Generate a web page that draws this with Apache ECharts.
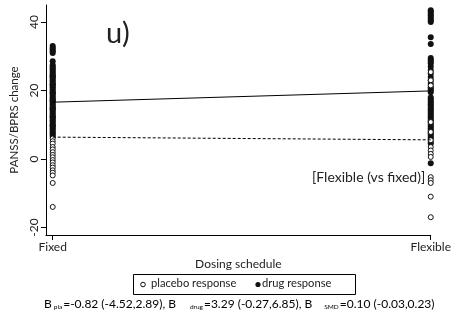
<!DOCTYPE html>
<html><head><meta charset="utf-8">
<script src="https://cdn.jsdelivr.net/npm/echarts@6/dist/echarts.min.js"></script>
<style>html,body{margin:0;padding:0;background:#fff}#c{width:454px;height:320px}</style>
</head><body><div id="c"></div>
<script>
const categories = ['Fixed', 'Flexible'];
const yTicks = [-20, 0, 20, 40];
const fixedDrug = [33, 32.5, 32, 31.5, 31, 28.6, 27.5, 27, 26.5, 26, 25.5, 25, 24.5, 24, 23.5, 23, 22.5, 22, 21.5, 21, 20.5, 20, 19.5, 19, 18.5, 18, 17.5, 17, 16.5, 16, 15.5, 15, 14.5, 14, 13.5, 13, 12.5, 12, 11.5, 11, 10.5, 10, 9.5, 9, 8.5, 8, 7.5, 7, 6.5, 24.2, 21.8, 19.3, 17.2, 14.8, 12.3, 9.8];
const fixedPlacebo = [6, 5.2, 4.5, 3.5, 2.8, 2, 1.2, 0.5, -0.3, -1, -1.8, -2.5, -3.3, -4, -4.8, -7, -14];
const flexibleDrug = [43.5, 43, 42.5, 42, 41.5, 41, 40.5, 40, 35.6, 33.6, 29.5, 29, 28.5, 28, 27, 26, 25, 24, 23, 22, 21, 20.5, 20, 19.5, 18, 17.5, 17, 16.5, 16, 15.5, 15, 14.5, 14, 13.5, 13, 12.5, 12, 11.5, 11, 10.5, 10, 9.5, 9, 8.5, 8, 7.5, 7, 6.5, 6, 5, 4.5, -1.2];
const flexiblePlacebo = [25.4, 23, 21.5, 10.8, 7.9, 5.5, 3.5, 2.5, 1.5, 0.6, -5.3, -6.2, -7, -11, -17];
const drugFit = [16.6, 19.9];
const placeboFit = [6.4, 5.6];

const F = 'Lato, "Open Sans", sans-serif';
const pts = (x, arr) => arr.map(v => [x, v]);
const chart = echarts.init(document.getElementById('c'), null, {renderer: 'canvas'});
chart.setOption({
  animation: false,
  grid: {left: 42, right: 17, top: 5, bottom: 85},
  xAxis: {
    type: 'value', min: -0.018, max: 1,
    name: 'Dosing schedule', nameLocation: 'middle', nameGap: 22,
    nameTextStyle: {fontFamily: F, fontSize: 12, color: '#222'},
    axisLine: {onZero: false, lineStyle: {color: '#000', width: 1}},
    axisTick: {show: true, length: 5, lineStyle: {color: '#000'}, customValues: [0, 1]},
    axisLabel: {fontFamily: F, fontSize: 12, color: '#222', margin: 6, customValues: [0, 1],
      formatter: v => categories[Math.round(v)]},
    splitLine: {show: false}
  },
  yAxis: {
    type: 'value', min: -22.2, max: 45,
    name: 'PANSS/BPRS change', nameLocation: 'middle', nameGap: 25,
    nameTextStyle: {fontFamily: F, fontSize: 11.5, color: '#222'},
    axisLine: {show: true, onZero: false, lineStyle: {color: '#000', width: 1}},
    axisTick: {show: true, length: 5, lineStyle: {color: '#000'}, customValues: yTicks},
    axisLabel: {fontFamily: F, fontSize: 12, color: '#222', rotate: 90, margin: 6, customValues: yTicks},
    splitLine: {show: false}
  },
  series: [
    {type: 'scatter', name: 'drug response', symbol: 'circle', symbolSize: 6,
     itemStyle: {color: '#111', opacity: 1},
     data: pts(0, fixedDrug).concat(pts(1, flexibleDrug))},
    {type: 'scatter', name: 'placebo response', symbol: 'circle', symbolSize: 5,
     itemStyle: {color: '#fff', borderColor: '#111', borderWidth: 1, opacity: 1},
     data: pts(0, fixedPlacebo).concat(pts(1, flexiblePlacebo))},
    {type: 'line', symbol: 'none', lineStyle: {color: '#000', width: 1},
     data: [[0, drugFit[0]], [1, drugFit[1]]], z: 5},
    {type: 'line', symbol: 'none', lineStyle: {color: '#000', width: 1, type: [3, 2]},
     data: [[0, placeboFit[0]], [1, placeboFit[1]]], z: 5}
  ],
  graphic: [
    {type: 'text', left: 106, top: 19, style: {text: 'u)', font: '29px ' + F, fill: '#222'}},
    {type: 'text', left: 312, top: 170, style: {text: '[Flexible (vs fixed)]', font: '14px ' + F, fill: '#222'}},
    {type: 'rect', shape: {x: 133.5, y: 274.5, width: 222, height: 20}, style: {fill: '#fff', stroke: '#000', lineWidth: 1}},
    {type: 'circle', shape: {cx: 143, cy: 284.5, r: 2.3}, style: {fill: '#fff', stroke: '#111', lineWidth: 1}},
    {type: 'text', left: 151, top: 278, style: {text: 'placebo response', font: '11.2px ' + F, fill: '#222'}},
    {type: 'circle', shape: {cx: 258, cy: 284.5, r: 2.6}, style: {fill: '#111'}},
    {type: 'text', left: 262, top: 278, style: {text: 'drug response', font: '11.2px ' + F, fill: '#222'}},
    {type: 'text', left: 44, top: 298, style: {
      text: '{n|B}{s|pla}{n|=-0.82 (-4.52,2.89), B}{s2|drug}{n|=3.29 (-0.27,6.85), B}{s3|SMD}{n|=0.10 (-0.03,0.23)}',
      rich: {
        n: {fontFamily: F, fontSize: 12, color: '#222', lineHeight: 15, verticalAlign: 'bottom'},
        s: {fontFamily: F, fontSize: 6.5, color: '#222', padding: [0, 1, 0, 2], lineHeight: 10, verticalAlign: 'bottom'},
        s2: {fontFamily: F, fontSize: 6.5, color: '#222', padding: [0, 1, 0, 14], lineHeight: 10, verticalAlign: 'bottom'},
        s3: {fontFamily: F, fontSize: 6.5, color: '#222', padding: [0, 1, 0, 12], lineHeight: 10, verticalAlign: 'bottom'}
      }
    }}
  ]
});
</script></body></html>
